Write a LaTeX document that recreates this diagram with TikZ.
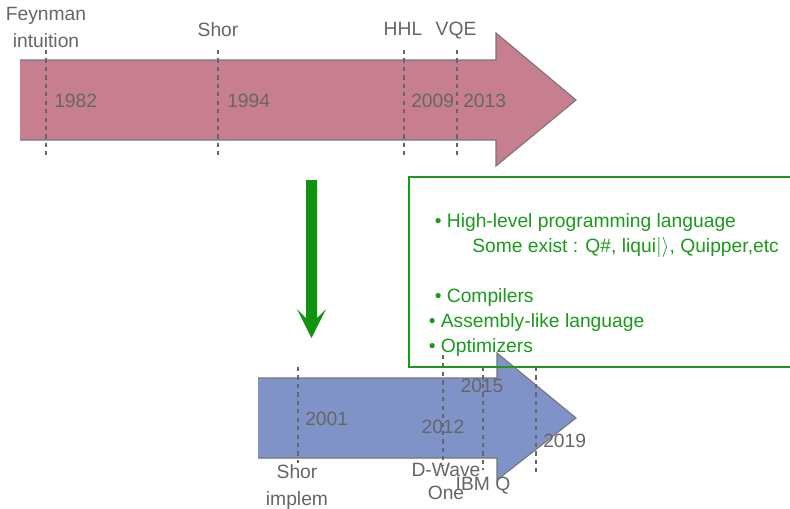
\documentclass[tikz,border=0pt]{standalone}
\usepackage{fontspec}
\setmainfont{Liberation Sans}
\definecolor{pastpink}{HTML}{C77F8F}
\definecolor{futureblue}{HTML}{8093C8}
\definecolor{labelgray}{HTML}{666666}
\definecolor{edgegray}{HTML}{777777}
\definecolor{itemgreen}{HTML}{1A9A1A}
\definecolor{arrowgreen}{HTML}{109410}
\begin{document}
\begin{tikzpicture}[x=0.025cm,y=-0.025cm,
	yearline/.style={labelgray, line width=0.8pt, dash pattern=on 3pt off 3pt},
	arrowedge/.style={edgegray, line width=0.8pt},
	yeartext/.style={labelgray, inner sep=0pt, font=\fontsize{13.7}{18.5}\selectfont},
	eventtext/.style={labelgray, inner sep=0pt, align=center, font=\fontsize{13.7}{18.5}\selectfont},
	itemtext/.style={itemgreen, inner sep=0pt, anchor=base west, font=\fontsize{13.7}{18.5}\selectfont}]
	\useasboundingbox (0,0) rectangle (790,508);
	
	% Past: the first timeline
	\fill[pastpink] (20,60) -- (496,60) -- (496,33) -- (576,100) -- (496,166) -- (496,140) -- (20,140) -- cycle;
	\draw[arrowedge] (20,60) -- (496,60) -- (496,33) -- (576,100) -- (496,166) -- (496,140) -- (20,140);
	
	\draw[yearline] (46,50) -- (46,156);
	\draw[yearline] (218,50) -- (218,156);
	\draw[yearline] (404,50) -- (404,156);
	\draw[yearline] (457,50) -- (457,156);
	
	\node[eventtext, anchor=base] (feynman) at (46,47) {Feynman\\intuition};
	\node[eventtext, anchor=base] (shor) at (218,36) {Shor};
	\node[eventtext, anchor=base] (hhl) at (403,35) {HHL};
	\node[eventtext, anchor=base] (vqe) at (456,35) {VQE};
	
	\node[yeartext, anchor=base west] (y1982) at (54,107) {1982};
	\node[yeartext, anchor=base west] (y1994) at (227,107) {1994};
	\node[yeartext, anchor=base west] (y2009) at (411,107) {2009};
	\node[yeartext, anchor=base west] (y2013) at (463,107) {2013};
	
	% Green arrow down
	\fill[arrowgreen] (306,180) -- (317,180) -- (317,318) -- (326,309) -- (311.5,338) -- (297,309) -- (306,318) -- cycle;
	
	% Future: the second timeline
	\fill[futureblue] (258,378) -- (497,378) -- (497,353) -- (576,418) -- (497,480) -- (497,458) -- (258,458) -- cycle;
	\draw[arrowedge] (258,378) -- (497,378) -- (497,353) -- (576,418) -- (497,480) -- (497,458) -- (258,458);
	
	\draw[yearline] (298,367) -- (298,463);
	\draw[yearline] (443,355) -- (443,465);
	\draw[yearline] (483,367) -- (483,470);
	\draw[yearline] (536,367) -- (536,472);
	
	\node[yeartext, anchor=base west] (y2001) at (305,425) {2001};
	\node[yeartext, anchor=base] (y2012) at (443,433) {2012};
	\node[yeartext, anchor=base] (y2015) at (482,392) {2015};
	\node[yeartext, anchor=base west] (y2019) at (543,447) {2019};
	
	\node[eventtext, anchor=base] (shorimp) at (297,505) {Shor\\implem};
	\node[eventtext, anchor=base, font=\fontsize{13.7}{16}\selectfont] (dwave) at (446,499) {D-Wave\\One};
	\node[eventtext, anchor=base] (ibmq) at (483,490) {IBM Q};
	
	% What is still to build
	\draw[itemgreen, line width=1.4pt] (409,177) rectangle (800,367);
	\node[itemtext] (highlevel) at (434.5,227) {• High-level programming language};
	\node[itemtext] (exist) at (472,252) {Some exist : Q\#, liqui$|\rangle$, Quipper,etc};
	\node[itemtext] (compilers) at (434.5,302) {• Compilers};
	\node[itemtext] (assembly) at (428.5,327) {• Assembly-like language};
	\node[itemtext] (optim) at (428.5,352) {• Optimizers};
	
\end{tikzpicture}
\end{document}
